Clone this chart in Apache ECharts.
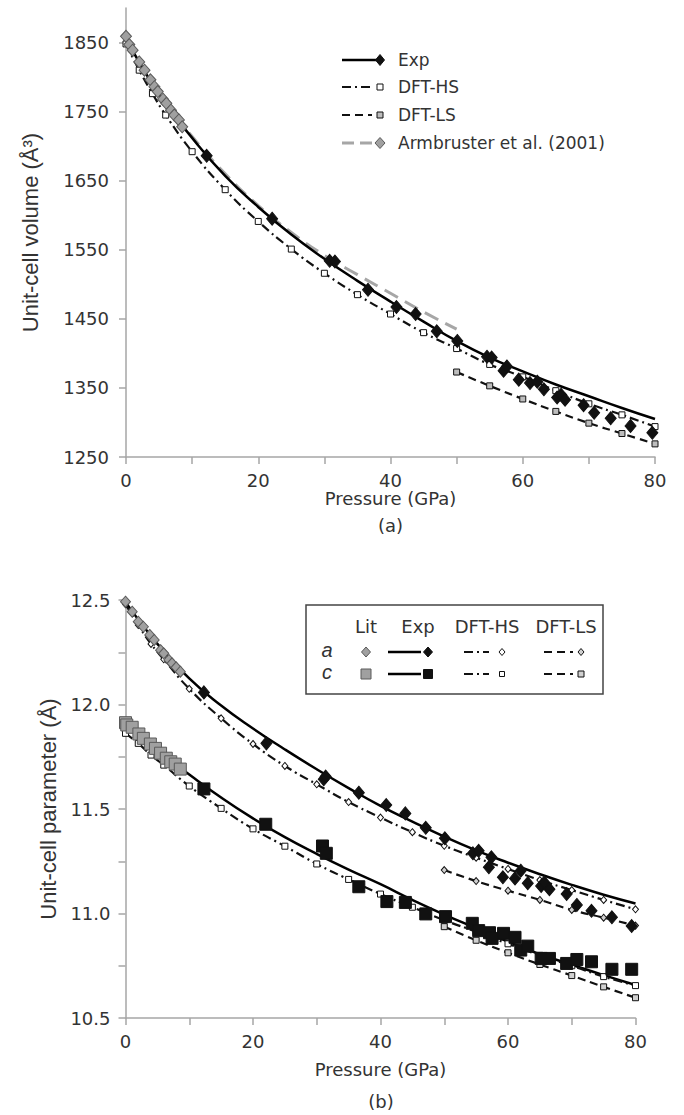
<!DOCTYPE html>
<html><head><meta charset="utf-8">
<script src="https://cdn.jsdelivr.net/npm/echarts@6/dist/echarts.min.js"></script>
<style>html,body{margin:0;padding:0;background:#fff}#c{width:684px;height:1115px}</style>
</head><body><div id="c"></div>
<script>
// ===== Panel (a): unit-cell volume (Å^3) vs pressure (GPa) =====
const fitP = [0,5,10,15,20,25,30,35,40,45,50,55,60,65,70,75,80];
const volExpFit = [1856,1775,1712,1657,1612,1572,1537,1505,1475,1446,1418,1394,1374,1355,1338,1321,1305];
const volExpP = [12.2,22.1,30.8,31.6,36.6,40.9,43.8,47.0,50.1,54.6,55.3,57.1,57.6,59.4,61.1,62.2,63.2,65.2,65.8,66.4,69.2,70.8,73.3,76.3,79.6];
const volExpV = [1686,1595,1534,1533,1492,1467,1457,1432,1418,1395,1394,1375,1381,1362,1357,1359,1348,1336,1340,1333,1325,1314,1306,1295,1285];
const volLitP = [0,0.5,1.0,2.0,2.8,3.7,4.3,4.8,5.6,6.1,6.8,7.3,8.0,8.5];
const volLitV = [1859,1847,1839,1822,1810,1796,1786,1779,1768,1762,1752,1745,1738,1728];
const volArmP = [0,5,10,15,20,25,30,35,40,45,50];
const volArmV = [1858,1776,1714,1660,1614,1575,1542,1514,1487,1460,1435];
const dftP = [0,2,4,6,10,15,20,25,30,35,40,45,50,55,60,65,70,75,80];
const volHsV = [1848,1810,1776,1745,1692,1637,1591,1551,1516,1485,1457,1430,1407,1384,1366,1346,1327,1311,1294];
const lsP = [50,55,60,65,70,75,80];
const volLsV = [1373,1353,1334,1316,1299,1284,1269];
const volTicks = [1250,1350,1450,1550,1650,1750,1850];

// ===== Panel (b): unit-cell parameters a and c (Å) =====
const aExpFit = [12.49,12.29,12.125,11.995,11.885,11.785,11.69,11.60,11.515,11.44,11.368,11.302,11.243,11.188,11.137,11.09,11.048];
const aExpP = [12.3,22.1,31.1,31.4,36.6,40.9,43.9,47.1,50.1,54.5,55.4,57.0,57.4,59.2,61.1,62.0,63.1,65.2,65.7,66.5,69.2,70.8,73.1,76.3,79.4];
const aExpV = [12.058,11.814,11.642,11.655,11.578,11.519,11.479,11.41,11.36,11.288,11.30,11.221,11.269,11.173,11.168,11.205,11.145,11.132,11.148,11.116,11.093,11.041,11.013,10.982,10.94];
const aLitP = [0,1.05,2.0,2.8,3.8,4.5,5.5,6.0,6.8,7.3,7.95,8.6];
const aLitV = [12.492,12.444,12.396,12.372,12.333,12.309,12.26,12.245,12.213,12.197,12.178,12.157];
const aHsV = [12.48,12.38,12.29,12.216,12.075,11.934,11.811,11.706,11.618,11.533,11.459,11.389,11.324,11.267,11.213,11.16,11.112,11.065,11.02];
const aLsV = [11.208,11.155,11.109,11.065,11.017,10.98,10.942];
const cExpFit = [11.905,11.78,11.665,11.555,11.455,11.365,11.285,11.21,11.14,11.065,10.995,10.93,10.865,10.805,10.755,10.705,10.658];
const cExpP = [12.3,22.0,30.9,31.5,36.6,41.0,43.9,47.1,50.2,54.4,55.4,57.1,57.5,59.3,61.1,62.0,63.1,65.2,66.5,69.2,70.8,73.1,76.3,79.4];
const cExpV = [11.596,11.427,11.323,11.288,11.128,11.057,11.053,10.998,10.985,10.953,10.918,10.908,10.881,10.905,10.886,10.825,10.844,10.785,10.785,10.761,10.78,10.769,10.733,10.733];
const cLitP = [0,0.2,1.05,2.1,2.8,3.9,4.7,5.5,6.4,7.1,7.8,8.6];
const cLitV = [11.913,11.902,11.891,11.859,11.838,11.811,11.79,11.767,11.743,11.726,11.715,11.691];
const cHsV = [11.862,11.814,11.758,11.71,11.61,11.503,11.405,11.322,11.237,11.163,11.093,11.03,10.968,10.913,10.855,10.80,10.75,10.698,10.655];
const cLsV = [10.937,10.872,10.812,10.756,10.703,10.649,10.597];
const parTicks = [10.5,11.0,11.5,12.0,12.5];
const pTicks = [0,20,40,60,80];

// ---------- styling helpers ----------
const FONT = 'DejaVu Sans';
const TXT = '#333';
const AX = '#a6a6a6';
const DASHDOT = [9,4,2,4];
const DASH = [8,5];
const pts = (xs, ys) => xs.map((x, i) => [x, ys[i]]);

function fitLine(name, xs, ys, g, color, width, dash) {
  return {name, type:'line', xAxisIndex:g, yAxisIndex:g, data:pts(xs, ys), smooth:true,
    symbol:'none', lineStyle:{color, width, type:dash || 'solid'}, z:3, silent:true};
}
function dftLine(name, xs, ys, g, dash, symbol, size, fill) {
  return {name, type:'line', xAxisIndex:g, yAxisIndex:g, data:pts(xs, ys), smooth:true,
    symbol, symbolSize:size, showAllSymbol:true,
    itemStyle:{color:fill, borderColor:'#111', borderWidth:1},
    lineStyle:{color:'#111', width:2.2, type:dash}, z:4, silent:true};
}
function dots(name, xs, ys, g, symbol, size, fill, border) {
  return {name, type:'scatter', xAxisIndex:g, yAxisIndex:g, data:pts(xs, ys),
    symbol, symbolSize:size, itemStyle:{color:fill, borderColor:border, borderWidth:1, opacity:1}, z:6, silent:true};
}

function xAxisCfg(g) {
  return {type:'value', gridIndex:g, min:0, max:80, interval:10,
    name:'Pressure (GPa)', nameLocation:'middle', nameGap: g === 0 ? 30 : 42,
    nameTextStyle:{fontFamily:FONT, fontSize:18, color:TXT},
    axisLine:{show:true, lineStyle:{color:AX, width:1.5}},
    axisTick:{show:true, length:7, lineStyle:{color:AX, width:1.5}},
    axisLabel:{customValues:pTicks, fontFamily:FONT, fontSize:18, color:TXT, margin:14,
      formatter:v => String(v)},
    splitLine:{show:false}};
}

const option = {
  animation:false,
  backgroundColor:'#fff',
  grid:[
    {left:126, top:8, width:529, height:449, containLabel:false},
    {left:125.5, top:600, width:510, height:418, containLabel:false}
  ],
  xAxis:[xAxisCfg(0), xAxisCfg(1)],
  yAxis:[
    {type:'value', gridIndex:0, min:1250, max:1900, interval:100,
      name:'Unit-cell volume (Å³)', nameLocation:'middle', nameGap:85, nameRotate:90,
      nameTextStyle:{fontFamily:'Liberation Sans', fontSize:22, color:TXT},
      axisLine:{show:true, lineStyle:{color:AX, width:1.5}},
      axisTick:{show:true, length:7, customValues:volTicks, lineStyle:{color:AX, width:1.5}},
      axisLabel:{customValues:volTicks, fontFamily:FONT, fontSize:18, color:TXT, margin:17,
        formatter:v => String(Math.round(v))},
      splitLine:{show:false}},
    {type:'value', gridIndex:1, min:10.5, max:12.5, interval:0.25,
      name:'Unit-cell parameter (Å)', nameLocation:'middle', nameGap:48, nameRotate:90,
      nameTextStyle:{fontFamily:'Liberation Sans', fontSize:22, color:TXT},
      axisLine:{show:true, lineStyle:{color:AX, width:1.5}},
      axisTick:{show:true, length:7, lineStyle:{color:AX, width:1.5}},
      axisLabel:{customValues:parTicks, fontFamily:FONT, fontSize:18, color:TXT, margin:15,
        formatter:v => Number(v).toFixed(1)},
      splitLine:{show:false}}
  ],
  series:[
    // panel (a)
    fitLine('Armbruster et al. (2001) fit', volArmP, volArmV, 0, '#a6a6a6', 3, [15,8]),
    dftLine('DFT-HS', dftP, volHsV, 0, DASHDOT, 'rect', 6, '#fff'),
    dftLine('DFT-LS', lsP, volLsV, 0, DASH, 'rect', 6, '#bdbdbd'),
    fitLine('Exp fit', fitP, volExpFit, 0, '#000', 2.5),
    dots('Armbruster et al. (2001)', volLitP, volLitV, 0, 'diamond', [11,12], '#a0a0a0', '#5a5a5a'),
    dots('Exp', volExpP, volExpV, 0, 'diamond', [11,13], '#111', '#111'),
    // panel (b)
    dftLine('a DFT-HS', dftP, aHsV, 1, DASHDOT, 'diamond', [6,7], '#fff'),
    dftLine('a DFT-LS', lsP, aLsV, 1, DASH, 'diamond', [6,7], '#d0d0d0'),
    dftLine('c DFT-HS', dftP, cHsV, 1, DASHDOT, 'rect', 6, '#fff'),
    dftLine('c DFT-LS', lsP, cLsV, 1, DASH, 'rect', 6, '#d0d0d0'),
    fitLine('a Exp fit', fitP, aExpFit, 1, '#000', 2.5),
    fitLine('c Exp fit', fitP, cExpFit, 1, '#000', 2.5),
    dots('a Lit', aLitP, aLitV, 1, 'diamond', [10,11], '#a0a0a0', '#5a5a5a'),
    dots('c Lit', cLitP, cLitV, 1, 'rect', 12, '#a0a0a0', '#5a5a5a'),
    dots('a Exp', aExpP, aExpV, 1, 'diamond', [11,13], '#111', '#111'),
    dots('c Exp', cExpP, cExpV, 1, 'rect', 12, '#111', '#111')
  ]
};

// ---------- legends & captions (graphic) ----------
const G = [];
function ln(x1, y1, x2, y2, color, w, dash) {
  G.push({type:'line', silent:true, z:10, shape:{x1, y1, x2, y2},
    style:{stroke:color, lineWidth:w, lineDash:dash || null}});
}
function diamond(cx, cy, w, h, fill, stroke) {
  G.push({type:'polygon', silent:true, z:11,
    shape:{points:[[cx, cy-h/2],[cx+w/2, cy],[cx, cy+h/2],[cx-w/2, cy]]},
    style:{fill, stroke, lineWidth:1}});
}
function square(cx, cy, s, fill, stroke) {
  G.push({type:'rect', silent:true, z:11, shape:{x:cx-s/2, y:cy-s/2, width:s, height:s},
    style:{fill, stroke, lineWidth:1}});
}
function txt(x, y, s, size, align, fam, italic) {
  G.push({type:'text', silent:true, z:12, x, y,
    style:{text:s, fontSize:size, fontFamily:fam || FONT, fontStyle:italic ? 'italic' : 'normal',
      fill:TXT, textAlign:align || 'left', textVerticalAlign:'middle'}});
}

// panel (a) legend
const LY = [60, 87, 115, 143];
ln(342, LY[0], 377, LY[0], '#000', 2.5); diamond(380, LY[0], 9, 11, '#111', '#111'); txt(398, LY[0], 'Exp', 17);
ln(342, LY[1], 372, LY[1], '#111', 2.2, DASHDOT); square(380, LY[1], 6, '#fff', '#111'); txt(398, LY[1], 'DFT-HS', 17);
ln(342, LY[2], 372, LY[2], '#111', 2.2, DASH); square(380, LY[2], 6, '#bdbdbd', '#111'); txt(398, LY[2], 'DFT-LS', 17);
ln(342, LY[3], 372, LY[3], '#a6a6a6', 3, [12,6]); diamond(380, LY[3], 10, 11, '#a0a0a0', '#5a5a5a'); txt(398, LY[3], 'Armbruster et al. (2001)', 17);

// panel (b) legend box
G.push({type:'rect', silent:true, z:9, shape:{x:306, y:605, width:297, height:89},
  style:{fill:'#fff', stroke:'#444', lineWidth:1.5}});
txt(366, 626, 'Lit', 18, 'center'); txt(418, 626, 'Exp', 18, 'center');
txt(487, 626, 'DFT-HS', 18, 'center'); txt(566, 626, 'DFT-LS', 18, 'center');
const RA = 652, RC = 674;
txt(327, RA - 2, 'a', 20, 'center', 'Liberation Sans', true);
txt(327, RC - 2, 'c', 20, 'center', 'Liberation Sans', true);
diamond(366, RA, 9, 10, '#a0a0a0', '#5a5a5a'); square(366, RC, 10, '#a0a0a0', '#5a5a5a');
ln(388, RA, 421, RA, '#000', 2.5); diamond(428, RA, 9, 10, '#111', '#111');
ln(388, RC, 421, RC, '#000', 2.5); square(428, RC, 9, '#111', '#111');
ln(464, RA, 489, RA, '#111', 2.2, DASHDOT); diamond(502, RA, 6, 7, '#fff', '#111');
ln(464, RC, 489, RC, '#111', 2.2, DASHDOT); square(502, RC, 5, '#fff', '#111');
ln(544, RA, 573, RA, '#111', 2.2, DASH); diamond(581, RA, 6, 7, '#d0d0d0', '#111');
ln(544, RC, 573, RC, '#111', 2.2, DASH); square(581, RC, 6, '#d0d0d0', '#111');

// captions
txt(390.5, 525, '(a)', 18, 'center');
txt(381, 1101, '(b)', 18, 'center');

option.graphic = G;

const chart = echarts.init(document.getElementById('c'), null, {renderer:'svg', width:684, height:1115});
chart.setOption(option);
</script>
</body></html>
